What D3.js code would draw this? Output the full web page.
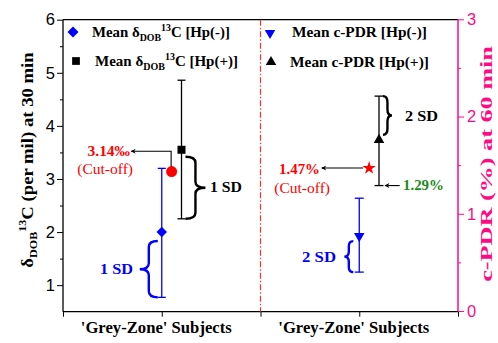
<!DOCTYPE html>
<html><head><meta charset="utf-8">
<script src="https://cdn.jsdelivr.net/npm/d3@7"></script>
<style>body{margin:0;background:#fff}svg{display:block}</style>
</head><body>
<script>
// ---- data ----
const leftTicks = [1, 2, 3, 4, 5, 6];
const rightTicks = [0, 1, 2, 3];
const categories = ["'Grey-Zone' Subjects", "'Grey-Zone' Subjects"];
// left panel: delta DOB 13C (per mil) at 30 min
const dobNeg = {mean: 2.0, lo: 0.77, hi: 3.2};
const dobPos = {mean: 3.55, lo: 2.25, hi: 4.86};
const dobCutoff = 3.14;
// right panel: c-PDR (%) at 60 min
const pdrNeg = {mean: 0.77, lo: 0.40, hi: 1.16};
const pdrPos = {mean: 1.76, lo: 1.29, hi: 2.21};
const pdrCutoff = 1.47;

const W = 498, H = 343;
const svg = d3.select("body").append("svg").attr("width", W).attr("height", H);
const x = d3.scaleLinear().domain([0, 4]).range([63, 458]);
const yL = d3.scaleLinear().domain([0.5, 6]).range([311.7, 19.7]);
const yR = d3.scaleLinear().domain([0, 3]).range([311, 19.3]);
const BLUE = "#0000ff", MAG = "#ff0a84", RED = "#ff0000", GREEN = "#1a8a1a";
const serif = "Liberation Serif, Times New Roman, serif";
const sans = "Liberation Sans, Arial, sans-serif";

// text helper: build at origin, measure, then stretch to target width
function label(px, py, width, anchor, opts, build, rot) {
  const t = svg.append("text").attr("text-anchor", anchor || "start")
    .attr("font-family", opts.family || serif).attr("font-weight", opts.weight || "bold")
    .attr("font-size", opts.size || 15).attr("fill", opts.fill || "#000");
  if (typeof build === "string") t.text(build); else build(t);
  const w = t.node().getBBox().width;
  const k = width ? width / w : 1;
  t.attr("transform", `translate(${px},${py}) rotate(${rot || 0}) scale(${k},1)`);
  return t;
}

// frame top
svg.append("line").attr("x1", x(0)).attr("x2", x(4)).attr("y1", 19.7).attr("y2", 19.7).attr("stroke", "#000").attr("stroke-width", 1.3);
// left axis
const gL = svg.append("g").attr("transform", `translate(${x(0)},0)`)
  .call(d3.axisLeft(yL).tickValues(leftTicks).tickSize(6).tickFormat(d3.format("d")));
svg.append("g").attr("transform", `translate(${x(0)},0)`)
  .call(d3.axisLeft(yL).tickValues([1.5, 2.5, 3.5, 4.5, 5.5]).tickSize(3).tickFormat(""))
  .call(g => g.select(".domain").remove());
gL.selectAll("text").attr("font-family", sans).attr("font-size", 16.5).attr("fill", "#000").attr("x", -8);
gL.select(".domain").attr("d", `M0,${yL(6)}V${yL(0.5)}`).attr("stroke-width", 1.3);
// bottom axis
const gB = svg.append("g").attr("transform", `translate(0,${yL(0.5)})`)
  .call(d3.axisBottom(x).tickValues([0, 1, 2, 3, 4]).tickSize(5).tickFormat(""));
gB.select(".domain").attr("d", `M${x(0)},0H${x(4)}`).attr("stroke-width", 1.3);
// right axis
const gR = svg.append("g").attr("transform", `translate(${x(4)},0)`)
  .call(d3.axisRight(yR).tickValues(rightTicks).tickSize(6).tickFormat(d3.format("d")));
svg.append("g").attr("transform", `translate(${x(4)},0)`)
  .call(d3.axisRight(yR).tickValues([0.5, 1.5, 2.5]).tickSize(3).tickFormat(""))
  .call(g => g.select(".domain").remove()).selectAll("line").attr("stroke", MAG);
gR.selectAll("line").attr("stroke", MAG);
gR.select(".domain").attr("stroke", MAG).attr("stroke-width", 1.5).attr("d", `M0,${yR(3)}V${yR(0)}`);
gR.selectAll("text").attr("font-family", sans).attr("font-size", 16.5).attr("fill", MAG).attr("x", 9);

// divider
svg.append("line").attr("x1", x(2)).attr("x2", x(2)).attr("y1", 19.7).attr("y2", yL(0.5))
  .attr("stroke", "#ff3030").attr("stroke-width", 1.2).attr("stroke-dasharray", "6,2,1.5,2");

// category labels
categories.forEach((c, i) => label(x(1 + 2 * i) - 5.5, 333, 151, "middle", {size: 16}, c));

// axis titles
label(33, 160, 216, "middle", {size: 17}, t => {
  t.append("tspan").text("δ");
  t.append("tspan").attr("font-size", 11).attr("dy", 4).text("DOB");
  t.append("tspan").attr("font-size", 11).attr("dy", -11).text("13");
  t.append("tspan").attr("dy", 7).text("C (per mil) at 30 min");
}, -90);
label(491.5, 164, 236, "middle", {size: 16}, t => t.attr("fill", MAG).text("c-PDR (%) at 60 min"), -90);

// error bars
function errbar(cx, s, d, color, cap) {
  const g = svg.append("g").attr("stroke", color).attr("stroke-width", 1.3);
  g.append("line").attr("x1", cx).attr("x2", cx).attr("y1", s(d.lo)).attr("y2", s(d.hi));
  [d.lo, d.hi].forEach(v => g.append("line").attr("x1", cx - cap).attr("x2", cx + cap).attr("y1", s(v)).attr("y2", s(v)));
}
errbar(x(1.0), yL, dobNeg, BLUE, 4);
errbar(x(1.2), yL, dobPos, "#000", 4);
errbar(x(3.0), yR, pdrNeg, BLUE, 4.5);
errbar(x(3.2), yR, pdrPos, "#000", 4.5);

const sym = (t, s) => d3.symbol().type(t).size(s)();
function mark(cx, cy, type, size, color, rot) {
  svg.append("path").attr("d", sym(type, size)).attr("fill", color)
    .attr("transform", `translate(${cx},${cy}) rotate(${rot || 0})`);
}
mark(x(1.0), yL(dobNeg.mean), d3.symbolSquare, 55, BLUE, 45);
mark(x(1.2), yL(dobPos.mean), d3.symbolSquare, 64, "#000");
svg.append("circle").attr("cx", x(1.1)).attr("cy", yL(dobCutoff)).attr("r", 5.5).attr("fill", RED);
mark(x(3.0), yR(pdrNeg.mean), d3.symbolTriangle, 48, BLUE, 180);
mark(x(3.2), yR(pdrPos.mean), d3.symbolTriangle, 48, "#000");
mark(x(3.1), yR(pdrCutoff), d3.symbolStar, 55, RED);

// arrows
const defs = svg.append("defs");
defs.append("marker").attr("id", "ah").attr("viewBox", "0 0 10 10").attr("refX", 9).attr("refY", 5)
  .attr("markerWidth", 8).attr("markerHeight", 5).attr("markerUnits", "userSpaceOnUse").attr("orient", "auto")
  .append("path").attr("d", "M0,0L10,5L0,10L3,5Z").attr("fill", "#000");
// left cutoff arrow
const ay = yL(dobPos.mean) + 1.5;
svg.append("path").attr("d", `M${x(1.1) - 0.5},${yL(dobCutoff) - 5}V${ay}H${x(0.69)}`)
  .attr("fill", "none").attr("stroke", "#000").attr("stroke-width", 1.1).attr("marker-end", "url(#ah)");
label(130, ay + 5, 43, "end", {size: 14.5, fill: RED}, "3.14‰");
label(133, 174, 56, "end", {size: 14.5, fill: RED, weight: "normal"}, "(Cut-off)");
// right cutoff arrow
svg.append("path").attr("d", `M${x(3.1) - 6},${yR(pdrCutoff)}H${x(2.62)}`)
  .attr("fill", "none").attr("stroke", "#000").attr("stroke-width", 1.1).attr("marker-end", "url(#ah)");
label(320, yR(pdrCutoff) + 5.5, 41, "end", {size: 14.5, fill: RED}, "1.47%");
label(330, 193, 56, "end", {size: 14.5, fill: RED, weight: "normal"}, "(Cut-off)");
// 1.29 arrow
svg.append("path").attr("d", `M${x(3.41)},${yR(pdrPos.lo)}H${x(3.26)}`)
  .attr("fill", "none").attr("stroke", "#000").attr("stroke-width", 1.1).attr("marker-end", "url(#ah)");
label(403, yR(pdrPos.lo) + 4.5, 41, "start", {size: 14.5, fill: GREEN}, "1.29%");

// braces
function brace(bx, y1, y2, w, dir, color) {
  const ym = (y1 + y2) / 2, h = w / 2, r = Math.min(6, (y2 - y1) / 6);
  const xm = bx + dir * h, xt = bx + dir * w;
  const d = `M${bx},${y1}Q${xm},${y1} ${xm},${y1 + r}L${xm},${ym - r}Q${xm},${ym} ${xt},${ym}` +
            `Q${xm},${ym} ${xm},${ym + r}L${xm},${y2 - r}Q${xm},${y2} ${bx},${y2}`;
  svg.append("path").attr("d", d).attr("fill", "none").attr("stroke", color).attr("stroke-width", 2.4);
}
brace(x(1.24), yL(dobPos.mean) + 7, yL(dobPos.lo), 20, 1, "#000");
label(210, (yL(dobPos.mean) + 7 + yL(dobPos.lo)) / 2 + 4, 32, "start", {size: 15.5}, "1 SD");
brace(x(0.96), yL(dobNeg.mean) + 9, yL(dobNeg.lo), 18, -1, BLUE);
label(133, (yL(dobNeg.mean) + 9 + yL(dobNeg.lo)) / 2 + 5, 33, "end", {size: 15.5, fill: BLUE}, "1 SD");
brace(x(3.24), yR(pdrPos.hi), yR(pdrPos.mean) - 5, 9, 1, "#000");
label(405, (yR(pdrPos.hi) + yR(pdrPos.mean) - 5) / 2 + 6, 33, "start", {size: 15.5}, "2 SD");
brace(x(2.94), yR(pdrNeg.mean) + 5, yR(pdrNeg.lo), 9, -1, BLUE);
label(336, (yR(pdrNeg.mean) + 5 + yR(pdrNeg.lo)) / 2 + 5, 34, "end", {size: 15.5, fill: BLUE}, "2 SD");

// legends
function dobLabel(t, tag) {
  t.append("tspan").text("Mean δ");
  t.append("tspan").attr("font-size", 10).attr("dy", 4).text("DOB");
  t.append("tspan").attr("font-size", 10).attr("dy", -10).text("13");
  t.append("tspan").attr("dy", 6).text("C " + tag);
}
mark(73, 32, d3.symbolSquare, 60, BLUE, 45);
label(92, 37, 138, "start", {size: 15}, t => dobLabel(t, "[Hp(-)]"));
mark(76, 61, d3.symbolSquare, 60, "#000");
label(95, 66, 143, "start", {size: 15}, t => dobLabel(t, "[Hp(+)]"));
mark(270, 33, d3.symbolTriangle, 48, BLUE, 180);
label(292, 37, 135, "start", {size: 15}, "Mean c-PDR [Hp(-)]");
mark(271, 62, d3.symbolTriangle, 48, "#000");
label(290, 67, 139, "start", {size: 15}, "Mean c-PDR [Hp(+)]");
</script>
</body></html>
